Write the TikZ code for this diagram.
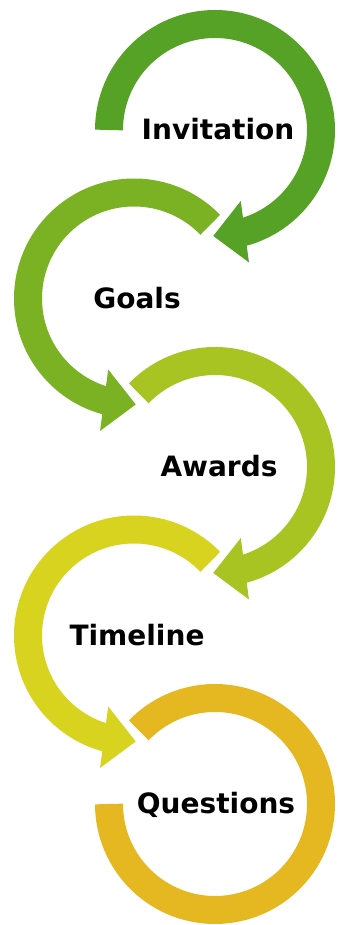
\documentclass[tikz,border=0pt]{standalone}
\usepackage{fontspec}
\newfontfamily\stagefont{DejaVu Sans}
\usetikzlibrary{arrows.meta,bending,positioning}

\definecolor{ringone}{HTML}{56A226}
\definecolor{ringtwo}{HTML}{7AB223}
\definecolor{ringthree}{HTML}{A7C423}
\definecolor{ringfour}{HTML}{D7D31E}
\definecolor{ringfive}{HTML}{E5B821}

\begin{document}
\begin{tikzpicture}[
    x=1pt, y=1pt,
    ring/.style={line width=28pt},
    ringarrow/.style={ring, -{Triangle[width=60pt,length=32pt]}},
    stage/.style={font=\stagefont\bfseries\fontsize{28}{32}\selectfont, anchor=base, text=black}
]
\useasboundingbox (0,0) rectangle (337,925);

% Centres
\coordinate (c1) at (215,795);
\coordinate (c2) at (134,626.5);
\coordinate (c3) at (215,458);
\coordinate (c4) at (134,289.5);
\coordinate (c5) at (215,121);

% Rings
\draw[ringarrow, ringone] ([shift={(180:106)}]c1) arc[start angle=180, end angle=-91, radius=106];
\draw[ringarrow, ringtwo] ([shift={(44:106)}]c2) arc[start angle=44, end angle=271, radius=106];
\draw[ringarrow, ringthree] ([shift={(136:106)}]c3) arc[start angle=136, end angle=-91, radius=106];
\draw[ringarrow, ringfour] ([shift={(44:106)}]c4) arc[start angle=44, end angle=271, radius=106];
\draw[ring, ringfive] ([shift={(136:106)}]c5) arc[start angle=136, end angle=-180, radius=106];

% Labels
\node[stage] (invitation) at ([shift={(3,-10)}]c1) {Invitation};
\node[stage] (goals) at ([shift={(3,-10)}]c2) {Goals};
\node[stage] (awards) at ([shift={(4,-10)}]c3) {Awards};
\node[stage] (timeline) at ([shift={(3,-10)}]c4) {Timeline};
\node[stage] (questions) at ([shift={(1,-10)}]c5) {Questions};
\end{tikzpicture}
\end{document}
